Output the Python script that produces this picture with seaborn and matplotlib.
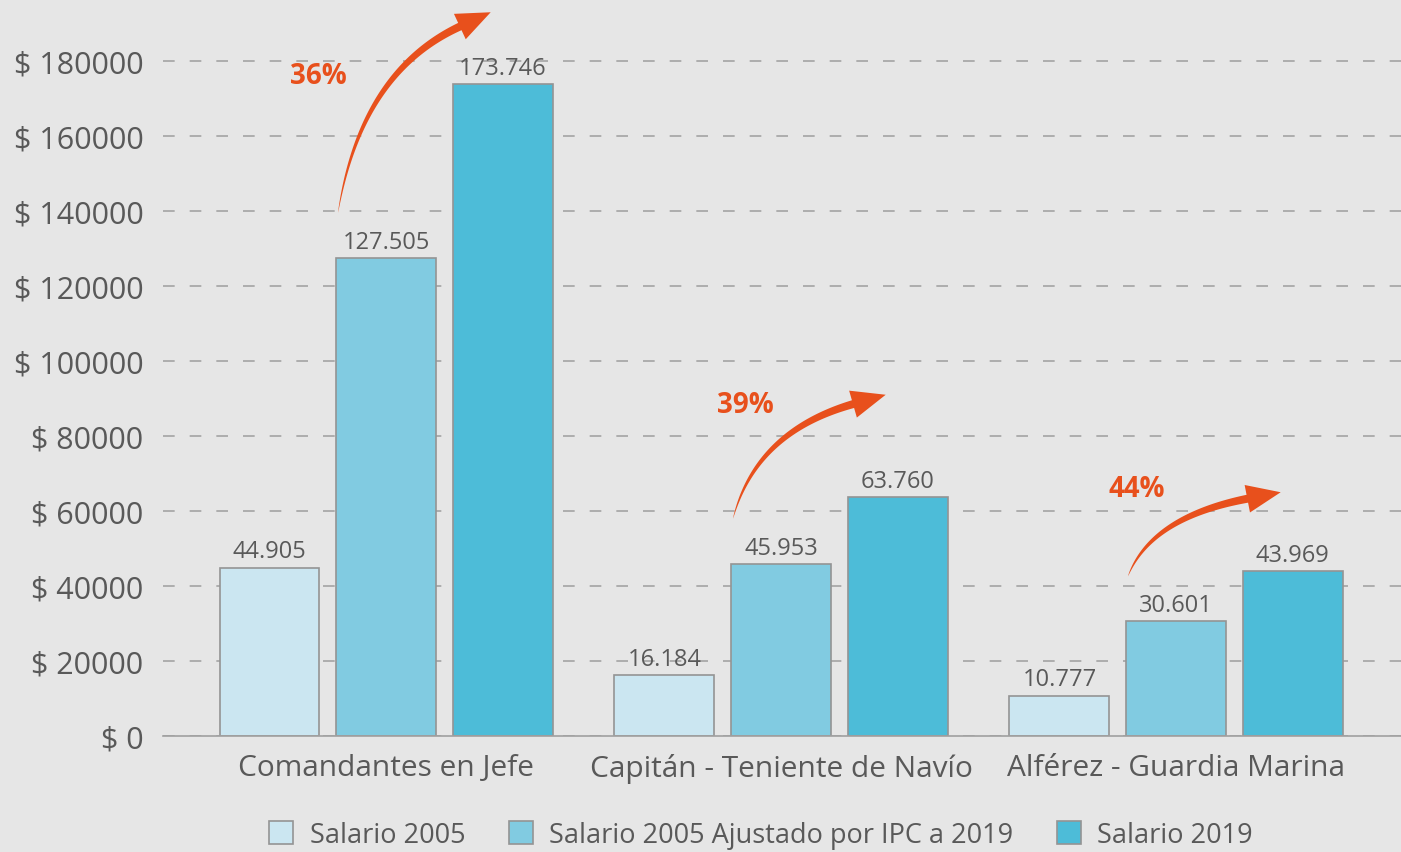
import numpy as np
import pandas as pd
import matplotlib
matplotlib.use("Agg")
import matplotlib.pyplot as plt
import seaborn as sns
from matplotlib.patches import Polygon
from matplotlib.transforms import IdentityTransform

# datos
grupos = ["Comandantes en Jefe", "Capitán - Teniente de Navío", "Alférez - Guardia Marina"]
series = ["Salario 2005", "Salario 2005 Ajustado por IPC a 2019", "Salario 2019"]
salario_2005 = [44905, 16184, 10777]
salario_2005_ipc = [127505, 45953, 30601]
salario_2019 = [173746, 63760, 43969]
yticks = list(range(0, 180001, 20000))

# alturas de las flechas y de los porcentajes (anotaciones)
flecha_punta = [193000, 91000, 65000]
pct_altura = [176000, 88500, 66000]
pct_dx = [-0.17, -0.09, -0.10]

colores = ["#cbe6f1", "#81cbe1", "#4dbcd8"]
gris = "#595959"
naranja = "#e8501c"
fondo = "#e6e6e6"

df = pd.DataFrame({
    "grupo": grupos * 3,
    "serie": [s for s in series for _ in grupos],
    "salario": salario_2005 + salario_2005_ipc + salario_2019,
})

sns.set_style("white", {"axes.facecolor": fondo, "figure.facecolor": fondo})
plt.rcParams["font.family"] = ["Open Sans", "DejaVu Sans"]

fig = plt.figure(figsize=(14.01, 8.53), dpi=100)
ax = fig.add_axes([163 / 1401, 116 / 853, 1 - 163 / 1401, 735 / 853])

sns.barplot(data=df, x="grupo", y="salario", hue="serie", palette=colores,
            width=0.885, gap=0.142, saturation=1, errorbar=None,
            edgecolor="#949494", linewidth=1.2, ax=ax)

handles, labels = ax.get_legend_handles_labels()
ax.get_legend().remove()

ax.set_xlim(-0.5646, 2.5696)
ax.set_ylim(0, 196000)
ax.set_yticks(yticks)
ax.set_yticklabels([f"$ {v}" for v in yticks])
ax.set_xlabel("")
ax.set_ylabel("")
ax.yaxis.grid(True, color="#a3a3a3", linestyle=(0, (7, 9)), linewidth=1.2)
ax.xaxis.grid(False)
ax.set_axisbelow(True)
for s in ["top", "right", "left"]:
    ax.spines[s].set_visible(False)
ax.spines["bottom"].set_color("#a0a0a0")
ax.spines["bottom"].set_linewidth(1.2)
ax.tick_params(axis="y", length=0, pad=14, labelsize=22, labelcolor=gris)
ax.tick_params(axis="x", length=0, pad=12, labelsize=21.5, labelcolor=gris)

for cont in ax.containers:
    ax.bar_label(cont, labels=[f"{b.get_height():,.0f}".replace(",", ".") for b in cont],
                 padding=3, fontsize=17, color=gris)


def flecha(ax, p0, p2, color):
    T = ax.transData
    a = np.array(T.transform(p0))
    c = np.array(T.transform(p2))
    d = c - a
    ctrl = a + np.array([0.15 * d[0], 0.7 * d[1]])
    u = c - ctrl
    u = u / np.linalg.norm(u)
    head_len, head_w, w_max = 34, 28, 8
    base = c - u * head_len
    t = np.linspace(0, 1, 80)[:, None]
    pts = (1 - t) ** 2 * a + 2 * (1 - t) * t * ctrl + t ** 2 * base
    der = 2 * (1 - t) * (ctrl - a) + 2 * t * (base - ctrl)
    der = der / np.linalg.norm(der, axis=1)[:, None]
    nrm = np.column_stack([-der[:, 1], der[:, 0]])
    w = w_max * t ** 0.7 / 2
    n = np.array([-u[1], u[0]])
    head = np.array([base + n * head_w / 2, c, base - n * head_w / 2])
    poly = np.vstack([pts + nrm * w, head, (pts - nrm * w)[::-1]])
    ax.add_patch(Polygon(poly, closed=True, transform=IdentityTransform(),
                         facecolor=color, lw=0, clip_on=False))


paso = 0.295
ancho = ax.containers[1][0].get_width()
for i in range(len(grupos)):
    v2 = salario_2005_ipc[i]
    v3 = salario_2019[i]
    x0 = i - ancho / 2 + 0.005
    x1 = i + paso - 0.03
    flecha(ax, (x0, v2 + 12000), (x1, flecha_punta[i]), naranja)
    pct = round((v3 / v2 - 1) * 100)
    ax.text(i + pct_dx[i], pct_altura[i], f"{pct}%", ha="center", va="center",
            fontsize=20, fontweight="bold", color=naranja)

leg = fig.legend(handles, labels, loc="center", bbox_to_anchor=(761 / 1401, 1 - 836 / 853),
                 ncol=3, frameon=False, fontsize=19.5, handlelength=0.9, handleheight=0.9,
                 columnspacing=1.6, handletextpad=0.6, labelcolor=gris)

fig.savefig("out.png", dpi=100, facecolor=fig.get_facecolor())
